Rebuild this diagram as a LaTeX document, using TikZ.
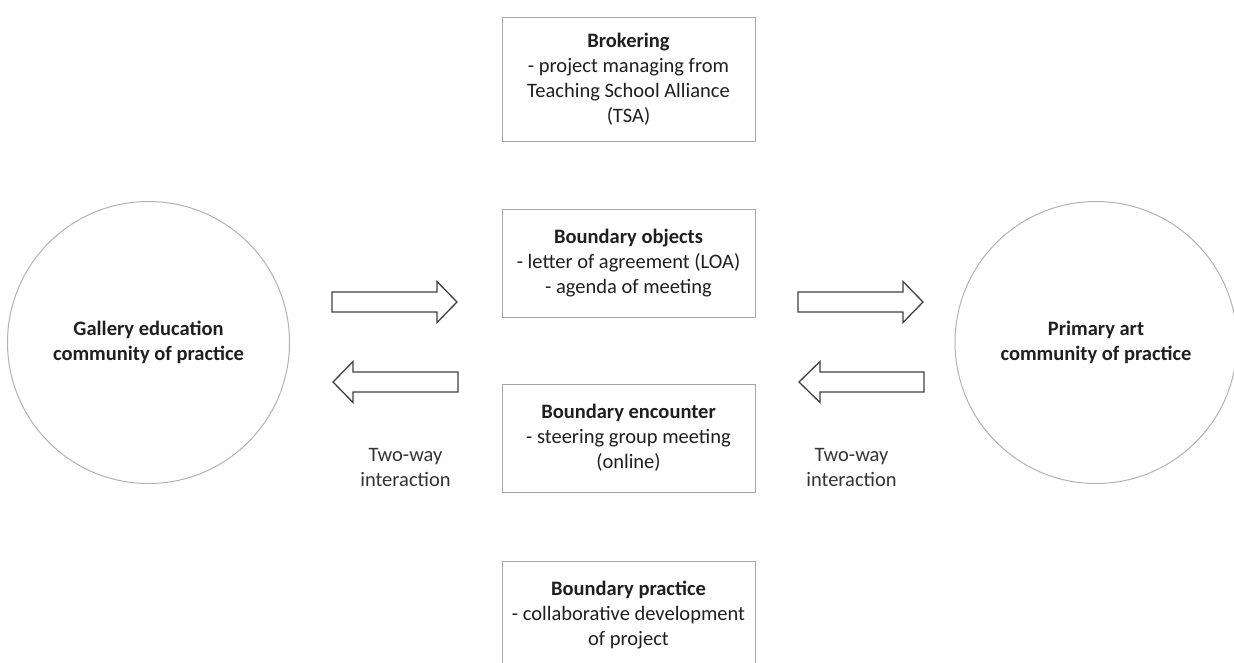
\documentclass[tikz,border=0pt]{standalone}
\usepackage{fontspec}
\setmainfont{Carlito}
\begin{document}
\begin{tikzpicture}[x=1pt,y=-1pt,
  txt/.style={text=black!88, font=\fontsize{20.5}{25}\selectfont, align=center, inner sep=0pt},
  infobox/.style={draw=black!35, line width=1pt, minimum width=253pt, minimum height=108pt, txt},
  community/.style={draw=black!30, line width=1pt, circle, minimum size=282pt, txt},
  blockarrow/.style={draw=black!75, line width=1.3pt, line join=miter, fill=white},
  note/.style={txt, text=black!80}]
\useasboundingbox (0,0) rectangle (1234,662);
\clip (0,0) rectangle (1234,662);

% boundary boxes in the middle column
\node[infobox, minimum height=124pt] (brok) at (628.5,79) {\textbf{Brokering}\\- project managing from\\Teaching School Alliance\\(TSA)};
\node[infobox] (obj) at (628.5,263) {\textbf{Boundary objects}\\- letter of agreement (LOA)\\- agenda of meeting};
\node[infobox] (enc) at (628.5,438) {\textbf{Boundary encounter}\\- steering group meeting\\(online)};
\node[infobox] (prac) at (628.5,615) {\textbf{Boundary practice}\\- collaborative development\\of project};

% the two communities of practice
\node[community] (gal) at (148.5,342.5) {\textbf{Gallery education}\\\textbf{community of practice}};
\node[community] (prim) at (1096,342.5) {\textbf{Primary art}\\\textbf{community of practice}};

% block arrows: #1 shaft end, #2 head base, #3 tip, #4 centre line
\newcommand\BlockArrow[4]{%
  \draw[blockarrow] (#1,#4-10) -- (#2,#4-10) -- (#2,#4-20.5) -- (#3,#4)
    -- (#2,#4+20.5) -- (#2,#4+10) -- (#1,#4+10) -- cycle;}
\BlockArrow{332}{437}{457}{302}
\BlockArrow{458}{353}{333}{382}
\BlockArrow{798}{903}{923}{302}
\BlockArrow{924}{820}{799}{382}

% interaction labels
\node[note] (twl) at (405.5,467) {Two-way\\interaction};
\node[note] (twr) at (851.5,467) {Two-way\\interaction};
\end{tikzpicture}
\end{document}
